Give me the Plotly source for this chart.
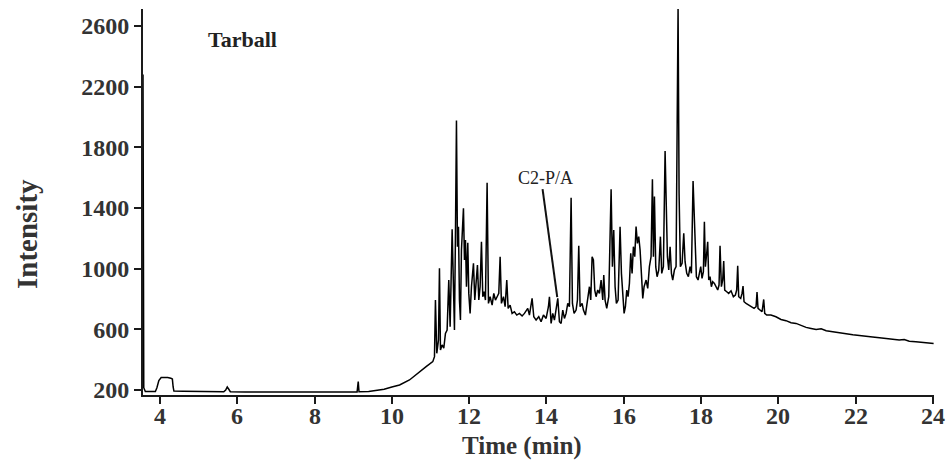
import plotly.graph_objects as go

# Retention time (min) and detector intensity
time_min = [
    3.56, 3.565, 3.57, 3.58, 3.62, 3.75, 3.88, 3.92, 3.97, 4.03, 4.10, 4.20, 4.28, 4.32, 4.34, 4.36,
    4.60, 5.00, 5.40, 5.65, 5.70, 5.74, 5.78, 5.82, 6.20, 6.80, 7.40, 8.00, 8.60, 9.10, 9.13, 9.15,
    9.40, 9.60, 9.80, 10.00, 10.20, 10.456, 10.714, 10.887, 11.059, 11.103, 11.128, 11.163, 11.206,
    11.232, 11.258, 11.301, 11.344, 11.387, 11.430, 11.473, 11.508, 11.534, 11.560, 11.594, 11.620,
    11.646, 11.672, 11.698, 11.724, 11.749, 11.775, 11.801, 11.827, 11.853, 11.879, 11.905, 11.931,
    11.965, 11.991, 12.025, 12.060, 12.112, 12.146, 12.181, 12.215, 12.250, 12.284, 12.319, 12.353,
    12.388, 12.422, 12.465, 12.500, 12.543, 12.595, 12.638, 12.681, 12.724, 12.767, 12.802, 12.836,
    12.888, 12.931, 12.974, 13.009, 13.060, 13.112, 13.172, 13.233, 13.302, 13.371, 13.431, 13.517,
    13.560, 13.629, 13.673, 13.733, 13.802, 13.862, 13.923, 13.992, 14.052, 14.078, 14.121, 14.164,
    14.207, 14.250, 14.294, 14.337, 14.380, 14.423, 14.466, 14.509, 14.552, 14.595, 14.639, 14.673,
    14.716, 14.768, 14.803, 14.837, 14.871, 14.923, 14.958, 15.009, 15.044, 15.078, 15.113, 15.147,
    15.182, 15.216, 15.251, 15.285, 15.328, 15.372, 15.415, 15.458, 15.484, 15.518, 15.561, 15.613,
    15.648, 15.674, 15.708, 15.742, 15.777, 15.811, 15.855, 15.906, 15.941, 15.975, 16.010, 16.044,
    16.079, 16.113, 16.148, 16.182, 16.217, 16.251, 16.286, 16.320, 16.355, 16.389, 16.424, 16.458,
    16.493, 16.527, 16.579, 16.622, 16.665, 16.708, 16.743, 16.769, 16.795, 16.829, 16.864, 16.907,
    16.950, 16.984, 17.027, 17.071, 17.097, 17.131, 17.166, 17.200, 17.235, 17.269, 17.312, 17.355,
    17.407, 17.433, 17.467, 17.511, 17.554, 17.588, 17.631, 17.674, 17.717, 17.752, 17.795, 17.821,
    17.847, 17.881, 17.924, 17.993, 18.027, 18.062, 18.088, 18.114, 18.148, 18.174, 18.200, 18.234,
    18.269, 18.303, 18.347, 18.390, 18.433, 18.467, 18.493, 18.528, 18.562, 18.588, 18.614, 18.666,
    18.717, 18.778, 18.838, 18.890, 18.924, 18.950, 18.976, 19.028, 19.062, 19.088, 19.114, 19.166,
    19.235, 19.304, 19.373, 19.425, 19.450, 19.476, 19.528, 19.580, 19.623, 19.649, 19.700, 19.81,
    19.94, 20.07, 20.20, 20.33, 20.46, 20.59, 20.72, 20.85, 20.98, 21.11, 21.24, 21.41, 21.58, 21.75,
    21.93, 22.10, 22.27, 22.44, 22.62, 22.79, 22.96, 23.13, 23.26, 23.39, 23.56, 23.74, 23.91, 24.02,
]

intensity = [
    2280, 1200, 320, 215, 190, 188, 190, 215, 262, 282, 284, 282, 278, 272, 220, 193,
    192, 191, 189, 188, 200, 220, 205, 189, 187, 186, 186, 185, 185, 186, 256, 188,
    190, 196, 205, 220, 233, 266, 321, 354, 387, 420, 793, 442, 529,
    1002, 464, 497, 475, 573, 595, 925, 617, 1013, 1259, 881, 595,
    1233, 1976, 1145, 1277, 793, 661, 1123, 1299, 1398, 1057, 1189, 881,
    1171, 837, 705, 881, 1035, 793, 925, 1024, 793, 881, 1178, 815,
    848, 793, 1567, 771, 815, 760, 837, 793, 815, 837, 1079, 771,
    815, 749, 925, 738, 760, 705, 716, 694, 705, 688, 705, 738,
    694, 804, 683, 661, 683, 650, 694, 672, 749, 815, 639, 705,
    661, 749, 804, 650, 639, 727, 672, 705, 771, 749, 1468, 771,
    705, 727, 793, 1151, 749, 771, 727, 694, 749, 815, 881, 793,
    1079, 1057, 859, 815, 859, 837, 925, 793, 958, 793, 738, 815,
    1189, 1523, 1013, 1255, 881, 771, 793, 1277, 969, 793, 705, 749,
    859, 815, 903, 1101, 969, 1145, 1079, 1277, 1167, 1211, 1123, 969,
    804, 881, 925, 870, 1013, 1079, 1589, 1079, 1475, 1013, 947, 991,
    1211, 969, 1013, 1776, 1431, 1079, 991, 1145, 969, 925, 991, 1013,
    2725, 1497, 1013, 1035, 1233, 1046, 969, 947, 1013, 969, 1578, 1409,
    1189, 947, 925, 1013, 936, 980, 1309, 1013, 1101, 1177, 925, 947,
    881, 914, 903, 881, 859, 892, 1151, 881, 925, 1050, 859, 848,
    837, 854, 815, 826, 859, 1019, 815, 804, 837, 885, 782, 771,
    760, 753, 738, 749, 846, 738, 727, 716, 797, 705, 694, 694,
    683, 665, 657, 643, 639, 626, 613, 606, 599, 604, 591, 584, 577, 569,
    564, 560, 553, 549, 544, 538, 533, 529, 533, 522, 518, 514, 511, 507,
]

x_ticks = [4, 6, 8, 10, 12, 14, 16, 18, 20, 22, 24]
y_ticks = [200, 600, 1000, 1400, 1800, 2200, 2600]

sample_label = "Tarball"
peak_label = "C2-P/A"
x_title = "Time (min)"
y_title = "Intensity"

SERIF = "Liberation Serif"
TICK_FONT = dict(family=SERIF, size=24, color="#333333", weight="bold")

fig = go.Figure()
fig.add_trace(go.Scatter(
    x=time_min, y=intensity, mode="lines",
    line=dict(color="#000000", width=1.5),
    showlegend=False, hoverinfo="skip",
))

axis_common = dict(
    showgrid=False, zeroline=False, showline=True,
    linecolor="#1a1a1a", linewidth=2,
    ticks="outside", ticklen=7, tickwidth=2, tickcolor="#1a1a1a",
    tickfont=TICK_FONT,
)

fig.update_xaxes(range=[3.56, 24.03], tickvals=x_ticks, showticklabels=False, **axis_common)
fig.update_yaxes(range=[167, 2712], tickvals=y_ticks, **axis_common)

# x tick labels placed closer to the axis, as in the reference
for t in x_ticks:
    fig.add_annotation(
        x=t, y=-0.054, xref="x", yref="paper", text=str(t), showarrow=False,
        font=TICK_FONT, xanchor="center", yanchor="middle",
    )

fig.add_annotation(
    x=0.479, y=-0.132, xref="paper", yref="paper", text=x_title, showarrow=False,
    font=dict(family=SERIF, size=25, color="#333333", weight="bold"),
    xanchor="center", yanchor="middle",
)
fig.add_annotation(
    x=-0.1467, y=0.417, xref="paper", yref="paper", text=y_title, showarrow=False,
    textangle=-90,
    font=dict(family=SERIF, size=29, color="#333333", weight="bold"),
    xanchor="center", yanchor="middle",
)
fig.add_annotation(
    x=6.13, y=2508, xref="x", yref="y", text=sample_label, showarrow=False,
    font=dict(family=SERIF, size=22, color="#222222", weight="bold"),
    xanchor="center", yanchor="middle",
)
fig.add_annotation(
    x=13.97, y=1598, xref="x", yref="y", text=peak_label, showarrow=False,
    font=dict(family=SERIF, size=18, color="#222222"),
    xanchor="center", yanchor="middle",
)
fig.add_shape(
    type="line", xref="x", yref="y", x0=13.90, y0=1525, x1=14.28, y1=813,
    line=dict(color="#111111", width=2),
)

fig.update_layout(
    width=951, height=461,
    margin=dict(l=143, r=17, t=9, b=66),
    paper_bgcolor="white", plot_bgcolor="white",
)

fig.write_html("out.html")
